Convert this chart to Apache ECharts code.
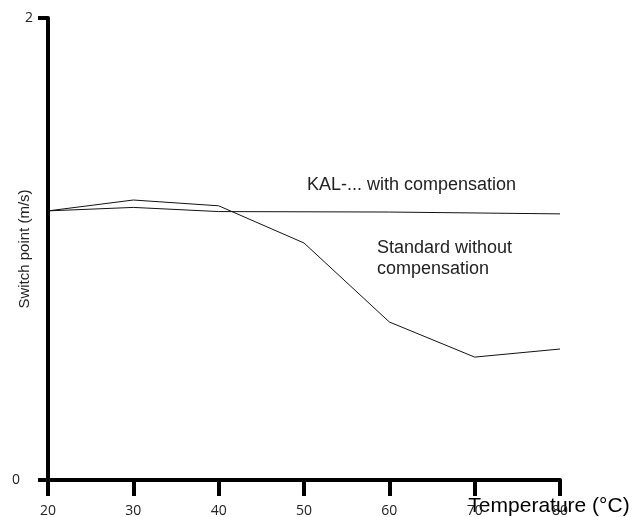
<!DOCTYPE html>
<html>
<head>
<meta charset="utf-8">
<script src="https://cdn.jsdelivr.net/npm/echarts@6/dist/echarts.min.js"></script>
<style>
  html, body { margin: 0; padding: 0; background: #fff; }
  #chart { width: 641px; height: 517px; }
</style>
</head>
<body>
<div id="chart"></div>
<script type="text/javascript">
    // temperatures (°C) and switch point (m/s)
    var temps = [20, 30, 40, 50, 60, 70, 80];
    var standardVals = [1.165, 1.212, 1.187, 1.026, 0.684, 0.532, 0.567];
    var kalTemps = [20, 30, 40, 60, 80];
    var kalVals = [1.165, 1.180, 1.162, 1.160, 1.152];
    var yTicks = [0, 2];

    function pairs(xs, ys) {
        return xs.map(function (x, i) { return [x, ys[i]]; });
    }

    var myChart = echarts.init(document.getElementById('chart'));

    var labelFont = { fontFamily: 'Open Sans', fontSize: 14, color: '#222' };

    var option = {
        animation: false,
        grid: { left: 48, top: 18, right: 81, bottom: 37, containLabel: false, outerBoundsMode: 'none' },
        xAxis: {
            type: 'value',
            min: temps[0],
            max: temps[temps.length - 1],
            interval: 10,
            name: 'Temperature (°C)',
            nameLocation: 'end',
            nameGap: -11,
            nameMoveOverlap: false,
            nameTextStyle: {
                fontFamily: 'Liberation Sans',
                fontSize: 21,
                color: '#000',
                align: 'center',
                verticalAlign: 'top',
                padding: [16, 0, 0, 0]
            },
            axisLine: { show: true, onZero: false, lineStyle: { color: '#000', width: 4 } },
            axisTick: { show: true, inside: false, length: 16, lineStyle: { color: '#000', width: 4 } },
            axisLabel: Object.assign({ margin: 24 }, labelFont),
            splitLine: { show: false }
        },
        yAxis: {
            type: 'value',
            min: yTicks[0],
            max: yTicks[1],
            interval: 2,
            name: 'Switch point (m/s)',
            nameLocation: 'middle',
            nameGap: 16,
            nameMoveOverlap: false,
            nameTextStyle: { fontFamily: 'Liberation Sans', fontSize: 15, color: '#222' },
            axisLine: { show: true, onZero: false, lineStyle: { color: '#000', width: 4 } },
            axisTick: { show: true, inside: false, length: 10, lineStyle: { color: '#000', width: 4 } },
            axisLabel: Object.assign({
                margin: 15,
                formatter: function (v) { return v === 0 ? '{z|' + v + '}' : String(v); },
                rich: { z: Object.assign({ padding: [0, 13, 0, 0] }, labelFont) }
            }, labelFont),
            splitLine: { show: false }
        },
        graphic: [
            {
                type: 'text', left: 307, top: 176,
                style: { text: 'KAL-... with compensation', font: '18px "Liberation Sans"', fill: '#222' }
            },
            {
                type: 'text', left: 377, top: 238,
                style: { text: 'Standard without\ncompensation', font: '18px "Liberation Sans"', lineHeight: 21, fill: '#222' }
            }
        ],
        series: [
            {
                name: 'KAL', type: 'line', data: pairs(kalTemps, kalVals),
                symbol: 'none', lineStyle: { color: '#111', width: 1 }
            },
            {
                name: 'Standard', type: 'line', data: pairs(temps, standardVals),
                symbol: 'none', lineStyle: { color: '#111', width: 1 }
            }
        ]
    };

    myChart.setOption(option);
</script>
</body>
</html>
